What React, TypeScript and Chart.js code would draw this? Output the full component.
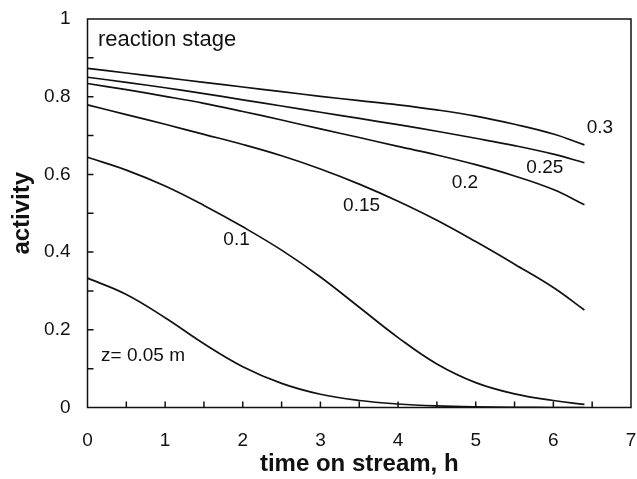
import React, { useEffect, useRef } from 'react';
import { Chart, registerables } from 'chart.js';

Chart.register(...registerables);

// Time on stream (h) at which the activity profiles are sampled
const hours = [0, 0.5, 1, 1.5, 2, 2.5, 3, 3.5, 4, 4.5, 5, 5.5, 6, 6.4];

// Catalyst activity at each axial position z (m) of the reaction stage
const activityZ005 = [0.333, 0.291, 0.231, 0.164, 0.105, 0.062, 0.034, 0.018, 0.009, 0.004, 0.0015, 0.0005, 0.0, 0.0];
const activityZ010 = [0.644, 0.611, 0.570, 0.520, 0.465, 0.405, 0.336, 0.258, 0.180, 0.112, 0.064, 0.035, 0.018, 0.008];
const activityZ015 = [0.779, 0.754, 0.729, 0.703, 0.677, 0.648, 0.614, 0.575, 0.531, 0.482, 0.427, 0.369, 0.309, 0.251];
const activityZ020 = [0.834, 0.818, 0.801, 0.783, 0.762, 0.740, 0.717, 0.695, 0.672, 0.650, 0.625, 0.596, 0.561, 0.522];
const activityZ025 = [0.850, 0.837, 0.823, 0.808, 0.792, 0.776, 0.760, 0.744, 0.728, 0.711, 0.693, 0.674, 0.652, 0.630];
const activityZ030 = [0.873, 0.861, 0.849, 0.837, 0.825, 0.813, 0.801, 0.790, 0.779, 0.766, 0.750, 0.729, 0.704, 0.676];

const series = [
  { name: 'z=0.05', values: activityZ005 },
  { name: 'z=0.1', values: activityZ010 },
  { name: 'z=0.15', values: activityZ015 },
  { name: 'z=0.2', values: activityZ020 },
  { name: 'z=0.25', values: activityZ025 },
  { name: 'z=0.3', values: activityZ030 },
];

// Axis ticks
const xTicks = [0, 1, 2, 3, 4, 5, 6, 7];
const yTicks = [0, 0.2, 0.4, 0.6, 0.8, 1];

// Curve annotations, anchored in data units (hours, activity)
const curveNotes = [
  { text: 'reaction stage', t: 0.135, a: 0.946, align: 'left', size: 22 },
  { text: 'z= 0.05 m', t: 0.174, a: 0.133, align: 'left', size: 19 },
  { text: '0.1', t: 1.92, a: 0.431, align: 'center', size: 19 },
  { text: '0.15', t: 3.53, a: 0.519, align: 'center', size: 19 },
  { text: '0.2', t: 4.86, a: 0.578, align: 'center', size: 19 },
  { text: '0.25', t: 5.89, a: 0.616, align: 'center', size: 19 },
  { text: '0.3', t: 6.6, a: 0.719, align: 'center', size: 19 },
];

const FONT = "'Liberation Sans', Arial, Helvetica, sans-serif";
const INK = '#111111';

const framePlugin = {
  id: 'frameAndTicks',
  afterDatasetsDraw(chart: any) {
    const { ctx, chartArea, scales } = chart;
    const { left, right, top, bottom } = chartArea;
    const xs = scales.x;
    const ys = scales.y;
    ctx.save();
    ctx.strokeStyle = INK;
    ctx.lineWidth = 1.5;
    ctx.strokeRect(left, top, right - left, bottom - top);
    ctx.beginPath();
    for (let i = 1; i < 14; i++) {
      const px = xs.getPixelForValue(i * 0.5);
      ctx.moveTo(px, bottom);
      ctx.lineTo(px, bottom - 6);
    }
    for (let i = 1; i < 10; i++) {
      const py = ys.getPixelForValue(i * 0.1);
      ctx.moveTo(left, py);
      ctx.lineTo(left + 6, py);
    }
    ctx.stroke();

    ctx.fillStyle = INK;
    ctx.textBaseline = 'middle';
    for (const n of curveNotes) {
      ctx.font = `${n.size}px ${FONT}`;
      ctx.textAlign = n.align as CanvasTextAlign;
      ctx.fillText(n.text, xs.getPixelForValue(n.t), ys.getPixelForValue(n.a));
    }
    ctx.restore();
  },
};

export default function App() {
  const canvasRef = useRef<HTMLCanvasElement | null>(null);

  useEffect(() => {
    document.body.style.margin = '0';
    const canvas = canvasRef.current;
    if (!canvas) return;

    const chart = new Chart(canvas, {
      type: 'line',
      data: {
        datasets: series.map((s) => ({
          label: s.name,
          data: hours.map((h, i) => ({ x: h, y: s.values[i] })),
          borderColor: INK,
          borderWidth: 1.7,
          pointRadius: 0,
          fill: false,
          tension: 0.4,
        })),
      },
      options: {
        animation: false,
        responsive: false,
        devicePixelRatio: 1,
        layout: { padding: { left: 0, top: 19, right: 6, bottom: 0 } },
        plugins: {
          legend: { display: false },
          tooltip: { enabled: false },
        },
        scales: {
          x: {
            type: 'linear',
            min: 0,
            max: 7,
            afterBuildTicks: (scale: any) => {
              scale.ticks = xTicks.map((v) => ({ value: v }));
            },
            afterFit: (scale: any) => {
              scale.height = 71.5;
              scale.paddingLeft = 0;
              scale.paddingRight = 0;
            },
            grid: { display: false, drawTicks: false },
            border: { display: false },
            ticks: {
              color: INK,
              padding: 22,
              font: { family: FONT, size: 19 },
              callback: (v: any) => String(v),
            },
            title: {
              display: true,
              text: 'time on stream, h',
              color: INK,
              padding: { top: 0, bottom: 0 },
              font: { family: FONT, size: 24, weight: 'bold' },
            },
          },
          y: {
            type: 'linear',
            min: 0,
            max: 1,
            afterBuildTicks: (scale: any) => {
              scale.ticks = yTicks.map((v) => ({ value: v }));
            },
            afterFit: (scale: any) => {
              scale.width = 87.5;
              scale.paddingTop = 0;
              scale.paddingBottom = 0;
            },
            grid: { display: false, drawTicks: false },
            border: { display: false },
            ticks: {
              color: INK,
              padding: 17,
              font: { family: FONT, size: 19 },
              callback: (v: any) => String(Number(Number(v).toFixed(1))),
            },
            title: {
              display: true,
              text: 'activity',
              color: INK,
              padding: { top: 8, bottom: 0 },
              font: { family: FONT, size: 24, weight: 'bold' },
            },
          },
        },
      },
      plugins: [framePlugin],
    });

    return () => chart.destroy();
  }, []);

  return (
    <div style={{ width: 637, height: 479, background: '#fff' }}>
      <canvas ref={canvasRef} width={637} height={479} style={{ display: 'block' }} />
    </div>
  );
}
